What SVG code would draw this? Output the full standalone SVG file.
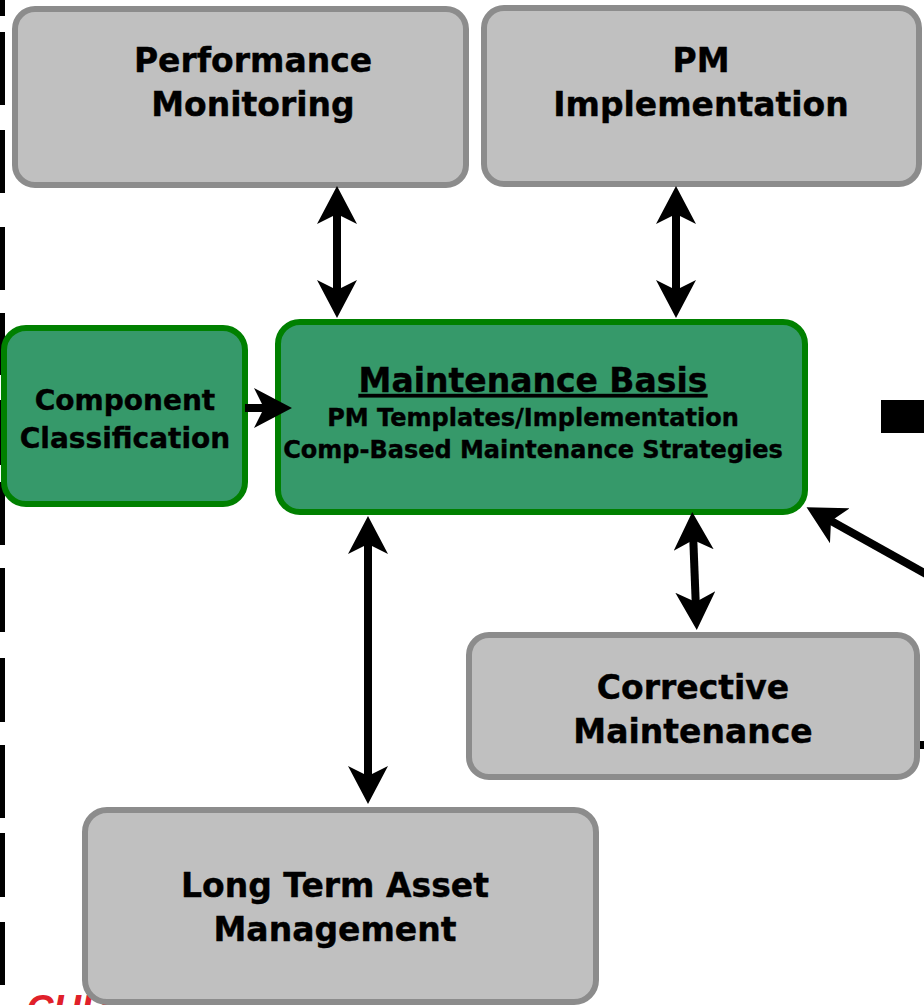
<svg xmlns="http://www.w3.org/2000/svg" width="924" height="1005" viewBox="0 0 924 1005">
  <style>
    .gray { fill: #c0c0c0; stroke: #8c8c8c; stroke-width: 6; }
    .green { fill: #36996a; stroke: #008000; stroke-width: 6; }
    .t { font-family: "DejaVu Sans", Verdana, sans-serif; font-weight: bold; fill: #000; text-anchor: middle; stroke: #000; stroke-width: 0.4; }
    .big { font-size: 33px; }
    .mid { font-size: 28px; }
    .sm { font-size: 24px; }
    .conn { stroke: #000; stroke-width: 8; fill: none; }
    .edge { fill: #000; }
  </style>
  <defs>
    <marker id="head" viewBox="0 0 38 40" markerWidth="38" markerHeight="40" refX="18" refY="20" markerUnits="userSpaceOnUse" orient="auto-start-reverse">
      <path d="M0,0 L38,20 L0,40 L10,20 Z" fill="#000"/>
    </marker>
  </defs>

  <rect width="924" height="1005" fill="#fff"/>

  <!-- dashed border on the left edge -->
  <g id="left-border" class="edge">
    <rect x="0" y="0" width="5" height="16"/>
    <rect x="0" y="32" width="5" height="73"/>
    <rect x="0" y="130" width="5" height="63"/>
    <rect x="0" y="227" width="5" height="63"/>
    <rect x="0" y="313" width="5" height="62"/>
    <rect x="0" y="400" width="5" height="65"/>
    <rect x="0" y="482" width="5" height="63"/>
    <rect x="0" y="568" width="5" height="64"/>
    <rect x="0" y="658" width="5" height="64"/>
    <rect x="0" y="745" width="5" height="73"/>
    <rect x="0" y="833" width="5" height="64"/>
    <rect x="0" y="922" width="5" height="63"/>
  </g>

  <!-- logo text peeking out at the bottom -->
  <text x="26" y="1022" font-family="Liberation Sans, Arial, sans-serif" font-weight="bold" font-style="italic" font-size="38" fill="#e0202a">CUR</text>

  <!-- right-edge fragments -->
  <g id="right-edge" class="edge">
    <rect x="881" y="400" width="43" height="33"/>
    <rect x="917" y="741" width="7" height="8"/>
  </g>

  <g id="performance-monitoring">
    <rect class="gray" x="15" y="9" width="451" height="176" rx="20"/>
    <text class="t big" x="253" y="72">Performance</text>
    <text class="t big" x="253" y="116">Monitoring</text>
  </g>

  <g id="pm-implementation">
    <rect class="gray" x="484" y="8" width="435" height="176" rx="20"/>
    <text class="t big" x="701" y="72">PM</text>
    <text class="t big" x="701" y="116">Implementation</text>
  </g>

  <g id="component-classification">
    <rect class="green" x="4" y="328" width="241" height="176" rx="22"/>
    <text class="t mid" x="125" y="410">Component</text>
    <text class="t mid" x="125" y="448">Classification</text>
  </g>

  <g id="maintenance-basis">
    <rect class="green" x="278" y="322" width="527" height="190" rx="22"/>
    <text class="t big" x="533" y="392" text-decoration="underline">Maintenance Basis</text>
    <text class="t sm" x="533" y="426">PM Templates/Implementation</text>
    <text class="t sm" x="533" y="458">Comp-Based Maintenance Strategies</text>
  </g>

  <g id="corrective-maintenance">
    <rect class="gray" x="469" y="635" width="448" height="142" rx="20"/>
    <text class="t big" x="693" y="699">Corrective</text>
    <text class="t big" x="693" y="743">Maintenance</text>
  </g>

  <g id="long-term-asset-management">
    <rect class="gray" x="85" y="810" width="511" height="192" rx="22"/>
    <text class="t big" x="335" y="897">Long Term Asset</text>
    <text class="t big" x="335" y="941">Management</text>
  </g>

  <g id="connectors">
    <line class="conn" x1="337" y1="206" x2="337" y2="298" marker-start="url(#head)" marker-end="url(#head)"/>
    <line class="conn" x1="676" y1="206" x2="676" y2="298" marker-start="url(#head)" marker-end="url(#head)"/>
    <line class="conn" x1="245" y1="408" x2="272" y2="408" marker-end="url(#head)"/>
    <line class="conn" x1="368" y1="536" x2="368" y2="784" marker-start="url(#head)" marker-end="url(#head)"/>
    <line class="conn" x1="693" y1="532" x2="696" y2="610" marker-start="url(#head)" marker-end="url(#head)"/>
    <line class="conn" x1="926" y1="574" x2="824" y2="517" marker-end="url(#head)"/>
  </g>
</svg>
